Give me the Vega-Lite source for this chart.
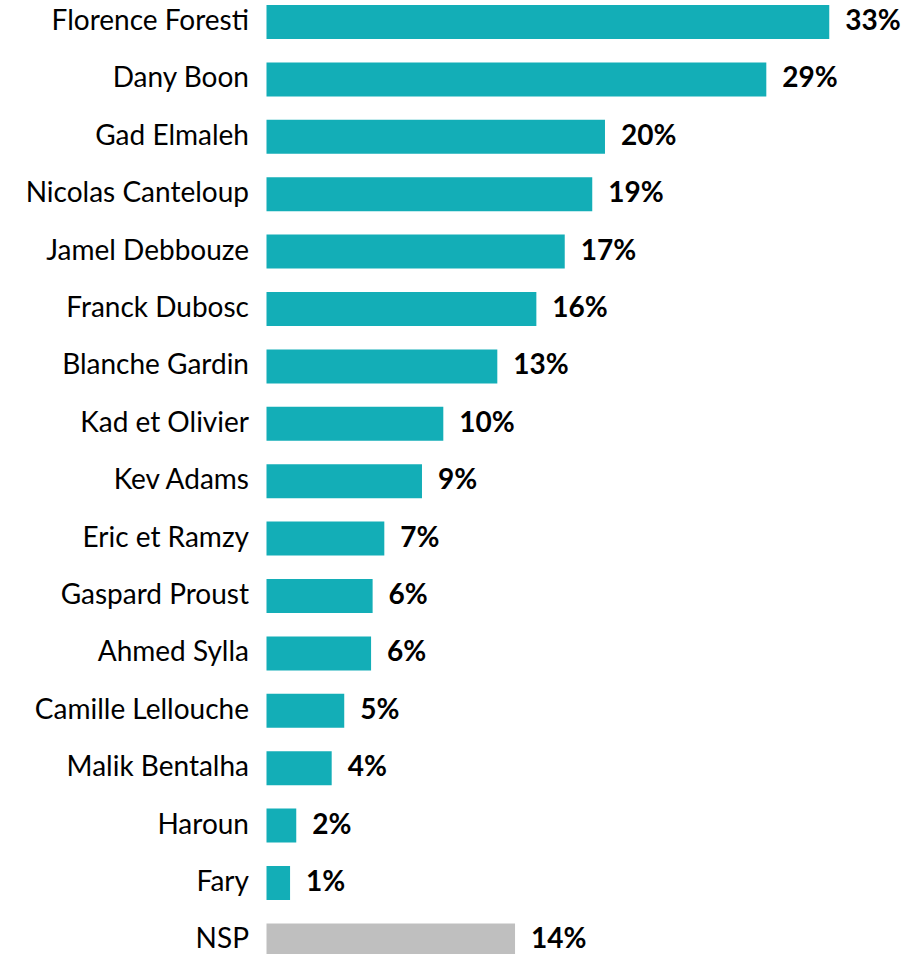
{
  "$schema": "https://vega.github.io/schema/vega-lite/v6.json",
  "width": 640.5,
  "height": 954,
  "autosize": {"type": "none"},
  "padding": {"left": 266.5, "top": 0, "right": 0, "bottom": 0},
  "background": "#ffffff",
  "config": {"view": {"stroke": null}, "font": "Lato"},
  "data": {
    "values": [
      {"name": "Florence Foresti", "value": 32.72, "label": "33%", "group": "humoriste"},
      {"name": "Dany Boon", "value": 29.06, "label": "29%", "group": "humoriste"},
      {"name": "Gad Elmaleh", "value": 19.68, "label": "20%", "group": "humoriste"},
      {"name": "Nicolas Canteloup", "value": 18.94, "label": "19%", "group": "humoriste"},
      {"name": "Jamel Debbouze", "value": 17.34, "label": "17%", "group": "humoriste"},
      {"name": "Franck Dubosc", "value": 15.69, "label": "16%", "group": "humoriste"},
      {"name": "Blanche Gardin", "value": 13.42, "label": "13%", "group": "humoriste"},
      {"name": "Kad et Olivier", "value": 10.28, "label": "10%", "group": "humoriste"},
      {"name": "Kev Adams", "value": 9.04, "label": "9%", "group": "humoriste"},
      {"name": "Eric et Ramzy", "value": 6.85, "label": "7%", "group": "humoriste"},
      {"name": "Gaspard Proust", "value": 6.17, "label": "6%", "group": "humoriste"},
      {"name": "Ahmed Sylla", "value": 6.08, "label": "6%", "group": "humoriste"},
      {"name": "Camille Lellouche", "value": 4.52, "label": "5%", "group": "humoriste"},
      {"name": "Malik Bentalha", "value": 3.79, "label": "4%", "group": "humoriste"},
      {"name": "Haroun", "value": 1.73, "label": "2%", "group": "humoriste"},
      {"name": "Fary", "value": 1.37, "label": "1%", "group": "humoriste"},
      {"name": "NSP", "value": 14.45, "label": "14%", "group": "NSP"}
    ]
  },
  "encoding": {
    "y": {
      "field": "name",
      "type": "nominal",
      "sort": null,
      "scale": {"range": [5, 957.4], "paddingInner": 0.4077, "paddingOuter": 0},
      "axis": {
        "title": null,
        "domain": false,
        "ticks": false,
        "labelFontSize": 28,
        "labelPadding": 18,
        "labelColor": "#000000",
        "labelFont": "Lato",
        "labelLimit": 400
      }
    },
    "x": {
      "field": "value",
      "type": "quantitative",
      "scale": {"domain": [0, 37.24]},
      "axis": null
    }
  },
  "layer": [
    {
      "mark": {"type": "bar"},
      "encoding": {
        "color": {
          "field": "group",
          "type": "nominal",
          "scale": {"domain": ["humoriste", "NSP"], "range": ["#13AEB7", "#BFBFBF"]},
          "legend": null
        }
      }
    },
    {
      "mark": {
        "type": "text",
        "align": "left",
        "baseline": "middle",
        "dx": 16,
        "fontSize": 28,
        "fontWeight": "bold",
        "font": "Lato",
        "color": "#000000"
      },
      "encoding": {"text": {"field": "label"}}
    }
  ]
}
